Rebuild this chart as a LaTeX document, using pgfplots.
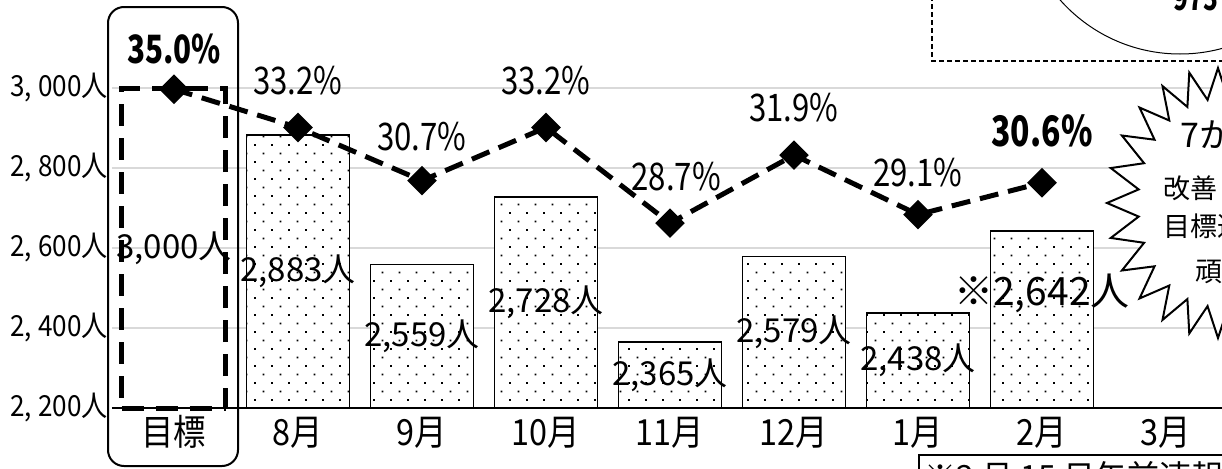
\documentclass[border=0pt]{standalone}
\usepackage{pgfplots}
\pgfplotsset{compat=1.18}
\usepackage{fontspec}
\setmainfont{Noto Sans CJK JP}
\newfontfamily\condA[FakeStretch=0.82]{Noto Sans CJK JP}
\newfontfamily\condB[FakeStretch=0.76]{Noto Sans CJK JP}
\newfontfamily\condT[FakeStretch=0.9]{Noto Sans CJK JP}
\usetikzlibrary{patterns}
\newcommand\fs[1]{\fontsize{#1}{#1}\selectfont}
\pgfdeclarepatternformonly{sdots}{\pgfqpoint{-0.6pt}{-0.6pt}}{\pgfqpoint{5pt}{5pt}}{\pgfqpoint{8.5pt}{8.5pt}}{%
  \pgfpathrectangle{\pgfqpoint{-0.45pt}{-0.45pt}}{\pgfqpoint{0.9pt}{0.9pt}}%
  \pgfpathrectangle{\pgfqpoint{3.8pt}{3.8pt}}{\pgfqpoint{0.9pt}{0.9pt}}%
  \pgfusepath{fill}}
\begin{document}
\begin{tikzpicture}
\useasboundingbox (0,0) rectangle (611pt,234pt);
\clip (0,0) rectangle (611pt,234pt);
\begin{axis}[
  at={(56pt,30pt)}, anchor=south west, scale only axis,
  width=558pt, height=212.5pt,
  xmin=-0.5, xmax=8.5, ymin=2200, ymax=3262.5,
  xtick={0,...,8},
  xticklabels={目標,8月,9月,10月,11月,12月,1月,2月,3月},
  ytick={2200,2400,2600,2800,3000},
  yticklabels={{2, 200人},{2, 400人},{2, 600人},{2, 800人},{3, 000人}},
  tick style={draw=none}, axis line style={draw=none},
  ymajorgrids, grid style={gray!30, line width=0.9pt},
  xticklabel style={font=\condT\fs{18pt}, anchor=base, yshift=-18.5pt},
  yticklabel style={font=\condT\fs{14.5pt}, anchor=east, inner xsep=0pt, xshift=-2pt},
  clip mode=individual,
]
\addplot[ybar, bar shift=0pt, bar width=51.5pt, draw=black, line width=0.75pt,
  fill=white, postaction={pattern=sdots}]
  coordinates {(1,2883) (2,2559) (3,2728) (4,2365) (5,2579) (6,2438) (7,2642)};
\addplot[ybar, bar shift=0pt, bar width=52pt, draw=black, line width=2.5pt,
  dash pattern=on 11pt off 6pt, fill=none]
  coordinates {(0,3000)};
\draw[line width=1pt] (axis cs:-0.5,2200) -- (axis cs:8.5,2200);
\draw[line width=2.5pt, dash pattern=on 11pt off 6pt] (axis cs:-0.42,2200) -- (axis cs:0.42,2200);
\node[font=\fs{16.5pt}] at (axis cs:0,2600) {3,000人};
\node[font=\fs{16.5pt}] at (axis cs:1,2541.5) {2,883人};
\node[font=\fs{16.5pt}] at (axis cs:2,2379.5) {2,559人};
\node[font=\fs{16.5pt}] at (axis cs:3,2464) {2,728人};
\node[font=\fs{16.5pt}] at (axis cs:4,2282.5) {2,365人};
\node[font=\fs{16.5pt}] at (axis cs:5,2389.5) {2,579人};
\node[font=\fs{16.5pt}] at (axis cs:6,2319) {2,438人};
\node[font=\fs{19.5pt}] at (axis cs:7,2487.5) {※2,642人};
\end{axis}
\begin{axis}[
  at={(56pt,30pt)}, anchor=south west, scale only axis,
  width=558pt, height=212.5pt,
  xmin=-0.5, xmax=8.5, ymin=20, ymax=40,
  hide axis, clip=false,
]
\addplot[black, line width=2.5pt, dash pattern=on 9.5pt off 5pt,
  mark=square*, mark size=4pt, mark options={solid, rotate=45, fill=black}]
  coordinates {(0,35.0) (1,33.2) (2,30.7) (3,33.2) (4,28.7) (5,31.9) (6,29.1) (7,30.6)};
\node[font=\condB\bfseries\fs{19.5pt}] at (axis cs:0,36.89) {35.0\%};
\node[font=\condA\fs{19pt}] at (axis cs:1,35.39) {33.2\%};
\node[font=\condA\fs{19pt}] at (axis cs:2,32.75) {30.7\%};
\node[font=\condA\fs{19pt}] at (axis cs:3,35.39) {33.2\%};
\node[font=\condA\fs{19pt}] at (axis cs:4.05,30.87) {28.7\%};
\node[font=\condA\fs{19pt}] at (axis cs:5,34.12) {31.9\%};
\node[font=\condA\fs{19pt}] at (axis cs:6,31.06) {29.1\%};
\node[font=\condB\bfseries\fs{21pt}] at (axis cs:7,33.04) {30.6\%};
\end{axis}
\begin{scope}[x=0.5pt, y=-0.5pt, shift={(0pt,234pt)}]
  \draw[line width=1pt, rounded corners=8pt] (108,7) rectangle (238,466);
  \draw[line width=0.6pt, dash pattern=on 2.5pt off 1.5pt, fill=white] (932,-20) rectangle (1260,61);
  \draw[line width=0.5pt] (1180,-106) circle [radius=80pt];
  \node[font=\condB\bfseries\fs{16pt}, anchor=base west, inner sep=0pt] at (1173,10) {975};
  \draw[line width=1pt, fill=white] (1107,203)
    \foreach \k in {1,...,47}{ -- ({1218+(isodd(\k)?80:111)*cos(180+7.5*\k)}, {203-(isodd(\k)?104:135)*sin(180+7.5*\k)}) } -- cycle;
  \node[font=\fs{17pt}, anchor=west, inner sep=0pt] at (1180,135) {7か月ぶりに};
  \node[font=\fs{13.5pt}, anchor=west, inner sep=0pt] at (1163,188) {改善しました};
  \node[font=\fs{13.5pt}, anchor=west, inner sep=0pt] at (1163,226) {目標達成に};
  \node[font=\fs{13.5pt}, anchor=west, inner sep=0pt] at (1195,272) {頑張ります};
  \draw[line width=1pt, fill=white] (919,455) rectangle (1260,520);
  \node[font=\fs{16pt}, anchor=base west, inner sep=0pt] at (924,488) {※2 月 15 日午前速報値};
\end{scope}
\end{tikzpicture}
\end{document}
